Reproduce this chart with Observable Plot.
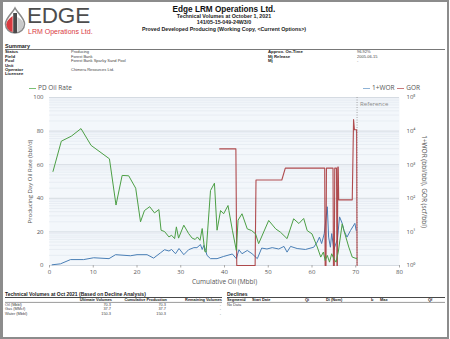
<!DOCTYPE html>
<html><head><meta charset="utf-8">
<script src="https://cdn.jsdelivr.net/npm/d3@7"></script>
<script src="https://cdn.jsdelivr.net/npm/@observablehq/plot@0.6"></script>
<style>
body{margin:0;background:#fff;}
#page{position:relative;width:450px;height:339px;overflow:hidden;background:#fff;}
#page > svg, #page > .chart{position:absolute;left:0;top:0;}
#frame{position:absolute;left:0;top:0;width:444px;height:335px;border:2px solid #8c8c8c;border-left-width:3px;}
.chart{top:90px !important;}
.leg{position:absolute;font-family:"Open Sans",sans-serif;font-size:6.5px;color:#555;white-space:nowrap;line-height:8px;}
.leg i{display:inline-block;width:7px;height:1.2px;vertical-align:middle;margin-right:2px;}
</style></head><body><div id="page"><div id="frame"></div></div>
<script>
// ---------- data ----------
const titleLines = ["Edge LRM Operations Ltd.", "Technical Volumes at October 1, 2021", "141/05-15-049-24W3/0", "Proved Developed Producing (Working Copy, <Current Options>)"];
const summaryLabels = ["Status", "Field", "Pool", "Unit", "Operator", "Licensee"];
const summaryValues = ["Producing", "Forest Bank", "Forest Bank Sparky Sand Pool", "", "Chimera Resources Ltd.", ""];
const summaryLabels2 = ["Approx. On-Time", "Mj Release", "Mj"];
const summaryValues2 = ["96.92%", "2005-06-15", "-"];
const volHeaders = ["Ultimate Volumes", "Cumulative Production", "Remaining Volumes"];
const volRows = ["Oil (Mbbl)", "Gas (MMcf)", "Water (Mbbl)"];
const volUltimate = ["70.3", "37.7", "150.3"];
const volCumulative = ["70.3", "37.7", "150.3"];
const volRemaining = ["-", "-", "-"];
const declineHeaders = ["Segment#", "Start Date", "Qi", "Di (Nom)", "b", "Max", "Qf"];

const xTicks = [0, 10, 20, 30, 40, 50, 60, 70, 80];
const oilTicks = [0, 20, 40, 60, 80, 100];
const logTicks = [1, 10, 100, 1000, 10000, 100000];
const logTickLabels = ["10⁰", "10¹", "10²", "10³", "10⁴", "10⁵"];
const referenceCum = [70.3];

// PD Oil Rate (bbl/d) vs cumulative oil (Mbbl)
const oilCum = [0.8,2.7,5.0,7.2,9.5,13.7,15.2,16.6,18.1,19.7,20.8,21.7,22.9,24.0,25.0,25.5,26.3,27.3,27.9,28.6,29.0,29.5,30.7,31.8,32.6,33.3,33.8,34.4,34.9,35.5,35.8,36.8,37.7,38.3,39.1,39.8,40.8,41.0,41.8,42.7,43.1,44.0,45.2,46.2,47.1,47.8,50.1,51.7,52.8,54.3,55.8,57.0,58.1,58.9,60.0,61.2,62.0,62.6,63.0,63.5,64.0,64.5,65.0,65.5,66.0,66.9,67.3,68.4,69.2,70.3];
const oilRate = [56,74,77,81.5,71.5,63.5,36,53.6,53.4,46,26,32.7,35,31.3,33.3,21,20.2,17,18,16,23,16.3,24,19,16.3,15.5,17,15,22,8.3,8,44.6,49,21,32.7,30.8,35.7,32.7,21,9,27,30.8,21.8,20.8,18.8,13,26.8,21.8,19.8,16,27.8,25,28,20.8,18.8,11,5,8,3,6,2,7,4,2,8,24.8,20.8,11,5,4];

// 1+WOR (bbl/bbl)
const worCum = [0.6,2.5,4.8,7.8,10.1,13.6,15.1,18.5,20.0,22.3,23.8,25.4,26.3,27.3,27.9,28.8,29.6,30.7,31.8,33.0,33.7,34.5,34.9,35.3,35.7,36.0,36.8,38.3,39.8,41.8,42.7,43.3,44.0,45.2,46.3,47.5,48.5,49.7,50.9,52.4,53.6,54.3,55.1,56.6,58.5,60.4,61.2,61.7,62.2,62.8,63.5,63.8,64.2,64.5,65.0,65.8,66.3,66.9,67.3,68.0,68.8,69.8,70.1];
const wor = [1.05,1.12,1.5,1.5,1.7,1.6,2.1,1.95,2.1,2.1,1.66,2.4,2.95,2.7,3.0,2.24,3.2,2.1,2.95,3.4,3.4,4.2,3.0,4.0,2.8,2.0,1.6,1.6,1.86,2.2,1.6,2.95,2.24,2.8,2.24,1.6,3.3,3.1,3.4,3.1,3.7,2.5,3.7,3.2,3.0,3.5,5,7,4.5,8.9,56,7,3.5,8.9,3,6,28,18,11,7,11,18,11];

// GOR (scf/bbl)
const gorCum = [38.9,42.6,42.8,47.0,47.2,53.1,53.9,62.9,63.0,63.2,63.3,64.8,64.9,65.1,65.2,65.6,65.7,65.8,65.9,66.0,66.1,69.2,69.5,69.7,70.2,70.3];
const gor = [2950,2950,1,1,350,350,790,790,1,1,790,790,1,1,790,790,1,1,850,850,90,90,22000,11000,11000,1];

// ---------- report text layer ----------
const page = document.getElementById("page");
const NS = "http://www.w3.org/2000/svg";
const svg = document.createElementNS(NS, "svg");
svg.setAttribute("width", 450); svg.setAttribute("height", 339);
page.appendChild(svg);
function T(x, y, s, size, o = {}) {
  const t = document.createElementNS(NS, "text");
  t.setAttribute("x", x); t.setAttribute("y", y);
  t.setAttribute("font-size", size);
  t.setAttribute("font-family", o.family || '"Liberation Sans", Arial, sans-serif');
  if (o.bold) t.setAttribute("font-weight", "bold");
  t.setAttribute("fill", o.fill || "#222");
  if (o.anchor) t.setAttribute("text-anchor", o.anchor);
  t.textContent = s; svg.appendChild(t); return t;
}
function L(x1, y1, x2, y2, w, c) {
  const l = document.createElementNS(NS, "line");
  l.setAttribute("x1", x1); l.setAttribute("y1", y1); l.setAttribute("x2", x2); l.setAttribute("y2", y2);
  l.setAttribute("stroke", c || "#333"); l.setAttribute("stroke-width", w); svg.appendChild(l);
}
// logo
const g = document.createElementNS(NS, "g");
g.innerHTML = `
 <path d="M15,8 C12.5,13 5.5,18 5.5,24 A9.5,9 0 0 0 24.5,24 C24.5,18 17.5,13 15,8 Z" fill="#fff" stroke="#8a8a8a" stroke-width="1.6"/>
 <path d="M12.6,16 L12.6,32 A9,8.5 0 0 1 6.3,24.5 C6.5,21 9,18.5 12.6,16 Z" fill="#d93a3f"/>
 <path d="M17.4,17 C20.5,19 23.6,21 23.6,24.5 A9,8.5 0 0 1 17.4,32 Z" fill="#c9c9c9"/>
 <rect x="13.2" y="13" width="3.8" height="20" fill="#4a4a4a"/>`;
svg.appendChild(g);
T(27, 23.3, "EDGE", 22.5, {fill: "#4d4d4d"}).setAttribute("letter-spacing", "-0.2");
T(28, 34.3, "LRM Operations Ltd.", 7, {fill: "#d93a3f"});
T(224, 12, titleLines[0], 8.2, {bold: true, anchor: "middle", fill: "#111"});
T(224, 18, titleLines[1], 5.3, {bold: true, anchor: "middle"});
T(224, 24, titleLines[2], 5.3, {bold: true, anchor: "middle"});
T(224, 31, titleLines[3], 5.3, {bold: true, anchor: "middle"});
// summary
T(5, 48, "Summary", 5.5, {bold: true});
L(5, 49.5, 445, 49.5, 0.8, "#555");
summaryLabels.forEach((s, i) => {
  const y = 53.2 + i * 4.45;
  T(5, y, s, 4.3, {bold: true});
  if (summaryValues[i]) T(71, y, summaryValues[i], 4, {fill: "#444"});
});
summaryLabels2.forEach((s, i) => {
  const y = 53.2 + i * 4.45;
  T(268, y, s, 4.3, {bold: true});
  T(357, y, summaryValues2[i], 4, {fill: "#444"});
});
// bottom volumes
T(5, 295.5, "Technical Volumes at Oct 2021 (Based on Decline Analysis)", 5, {bold: true});
L(5, 297.5, 222, 297.5, 0.9, "#333");
const volX = [112, 167, 222];
volHeaders.forEach((s, i) => T(volX[i], 301.3, s, 3.9, {bold: true, anchor: "end"}));
L(5, 302.4, 222, 302.4, 0.6, "#555");
volRows.forEach((s, i) => {
  const y = 305.5 + i * 4.9;
  T(5, y, s, 3.9, {fill: "#444"});
  T(volX[0] - 1, y, volUltimate[i], 3.9, {anchor: "end", fill: "#444"});
  T(volX[1] - 1, y, volCumulative[i], 3.9, {anchor: "end", fill: "#444"});
  T(volX[2] - 1, y, volRemaining[i], 3.9, {anchor: "end", fill: "#444"});
});
T(227, 295.5, "Declines", 5, {bold: true});
L(227, 297.5, 445, 297.5, 0.9, "#333");
const decX = [227, 252, 305, 326, 371, 380, 428];
declineHeaders.forEach((s, i) => T(decX[i], 301.3, s, 3.9, {bold: true}));
L(227, 302.4, 445, 302.4, 0.6, "#555");
T(227, 305.5, "No Data", 3.9, {fill: "#444"});

// ---------- charts ----------
const W = 450, H = 200, M = {marginTop: 7, marginBottom: 25, marginLeft: 49, marginRight: 51};
const font = {background: "transparent", fontFamily: '"Open Sans", sans-serif', fontSize: "6px", color: "#444"};
const minorLog = [];
for (let k = 0; k < 5; k++) for (let m = 2; m <= 9; m++) minorLog.push(m * Math.pow(10, k));

const worData = worCum.map((c, i) => ({c, v: wor[i]}));
const gorData = gorCum.map((c, i) => ({c, v: gor[i]}));
const oilData = oilCum.map((c, i) => ({c, v: oilRate[i]}));

const logPlot = Plot.plot({
  width: W, height: H, ...M,
  style: font,
  x: {domain: [0, 80], axis: null},
  y: {type: "log", domain: [1, 1e5]},
  marks: [
    Plot.frame({fill: "#f3f7fb", stroke: null}),
    Plot.gridY(minorLog, {stroke: "#e2e8ef", strokeOpacity: 1, strokeWidth: 0.7}),
    Plot.gridY(logTicks, {stroke: "#d5dbe2", strokeOpacity: 1, strokeWidth: 1}),
    Plot.axisY({anchor: "right", ticks: logTicks, tickFormat: d => logTickLabels[logTicks.indexOf(d)], tickSize: 0, tickPadding: 7, label: null, fill: "#555"}),
    Plot.ruleX(referenceCum, {stroke: "#9a9a9a", strokeDasharray: "1,1.5", strokeWidth: 0.9}),
    Plot.text(referenceCum, {x: d => d, y: 1e5, text: () => "Reference", dx: 3, dy: 7, textAnchor: "start", fill: "#8a8a8a", fontSize: 6}),
    Plot.line(worData, {x: "c", y: "v", stroke: "#4a7fb6", strokeWidth: 1}),
    Plot.line(gorData, {x: "c", y: "v", stroke: "#a8383c", strokeWidth: 1.1, strokeOpacity: 0.9}),
    Plot.text(["1+WOR (bbl/bbl), GOR (scf/bbl)"], {frameAnchor: "right", dx: 25, rotate: 90, textAnchor: "middle", lineAnchor: "middle", fill: "#555", fontSize: 6.5})
  ]
});
logPlot.classList.add("chart");
page.appendChild(logPlot);

const oilPlot = Plot.plot({
  width: W, height: H, ...M,
  style: font,
  x: {domain: [0, 80]},
  y: {domain: [0, 100]},
  marks: [
    Plot.axisY({ticks: oilTicks, tickSize: 0, tickPadding: 6, label: "Producing Day Oil Rate (bbl/d)", labelAnchor: "center", labelArrow: "none", labelOffset: 22, fill: "#555", fontSize: 6}),
    Plot.axisX({ticks: xTicks, tickSize: 2.5, tickPadding: 2, stroke: "#aaa", label: null, fill: "#555", fontSize: 6}),
    Plot.text(["Cumulative Oil (Mbbl)"], {frameAnchor: "bottom", dy: 16, textAnchor: "middle", lineAnchor: "middle", fill: "#555", fontSize: 6.5}),
    Plot.line(oilData, {x: "c", y: "v", stroke: "#4c9f45", strokeWidth: 1})
  ]
});
oilPlot.classList.add("chart");
page.appendChild(oilPlot);

// legends
const leg1 = document.createElement("div");
leg1.className = "leg"; leg1.style.left = "29px"; leg1.style.top = "84px";
leg1.innerHTML = '<i style="background:#7cbf75"></i>PD Oil Rate';
page.appendChild(leg1);
const leg2 = document.createElement("div");
leg2.className = "leg"; leg2.style.left = "363px"; leg2.style.top = "84px";
leg2.innerHTML = '<i style="background:#8fb3d6"></i>1+WOR <i style="background:#c87a7c;margin-left:1px"></i>GOR';
page.appendChild(leg2);
</script></body></html>
